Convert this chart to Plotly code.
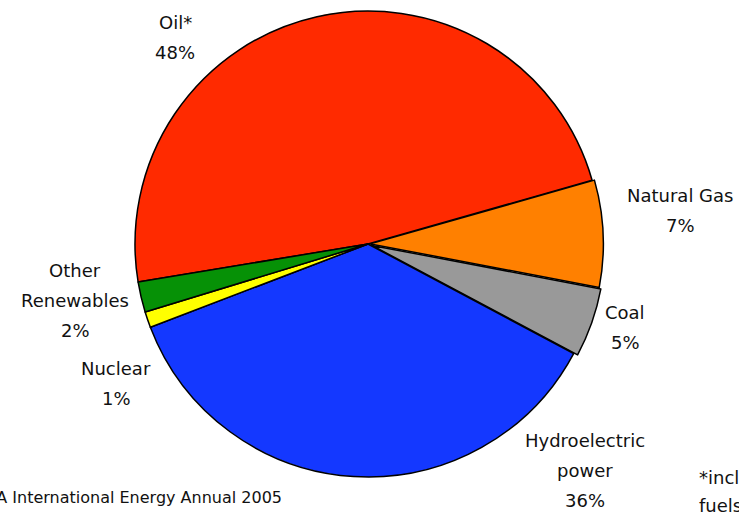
import plotly.graph_objects as go

# ---- data ----
sources = ["Oil", "Natural Gas", "Coal", "Hydroelectric power", "Nuclear", "Other Renewables"]
shares = [48.2, 7.4, 4.8, 36.4, 1.1, 2.1]
label_lines = [["Oil*"], ["Natural Gas"], ["Coal"], ["Hydroelectric", "power"], ["Nuclear"], ["Other", "Renewables"]]
colors = ["#FF2A00", "#FF8000", "#999999", "#1438FF", "#FFFF00", "#069106"]
pulls = [0, 0.01, 0.018, 0, 0, 0]

W, H = 739, 515
FONT = "DejaVu Sans, Liberation Sans, Arial, sans-serif"
MAXPULL = max(pulls)
R = 233
CX, CY = 368, 244
HALF = R * (1 + MAXPULL)

fig = go.Figure(go.Pie(
    labels=sources,
    values=shares,
    sort=False,
    direction="clockwise",
    rotation=260.6,
    pull=pulls,
    marker=dict(colors=colors, line=dict(color="black", width=1.5)),
    textinfo="none",
    hoverinfo="label+percent",
    showlegend=False,
    domain=dict(x=[(CX - HALF) / W, (CX + HALF) / W],
                y=[max(0, 1 - (CY + HALF) / H), min(1, 1 - (CY - HALF) / H)]),
))

# label anchor positions (pixel centre x, first-line centre y)
label_pos = [(175, 22), (680, 195), (625, 312), (585, 440), (116, 368), (75, 270)]
LINE = 30
total = sum(shares)
annotations = []
for lines, v, (px, py) in zip(label_lines, shares, label_pos):
    all_lines = lines + [f"{round(v / total * 100)}%"]
    for i, t in enumerate(all_lines):
        yy = py + i * LINE
        annotations.append(dict(
            text=t, x=px / W, y=1 - yy / H, xref="paper", yref="paper",
            xanchor="center", yanchor="middle", showarrow=False,
            font=dict(family=FONT, size=18, color="#111111"),
        ))

# source note and footnote (cut off at the edges as in the original)
annotations.append(dict(
    text="Source: EIA International Energy Annual 2005", x=284 / W, y=1 - 497 / H,
    xref="paper", yref="paper", xanchor="right", yanchor="middle", showarrow=False,
    font=dict(family=FONT, size=16, color="#111111"),
))
annotations.append(dict(
    text="*includes", x=697 / W, y=1 - 477 / H,
    xref="paper", yref="paper", xanchor="left", yanchor="middle", showarrow=False,
    font=dict(family=FONT, size=18, color="#111111"),
))
annotations.append(dict(
    text="fuels", x=697 / W, y=1 - 505 / H,
    xref="paper", yref="paper", xanchor="left", yanchor="middle", showarrow=False,
    font=dict(family=FONT, size=18, color="#111111"),
))

fig.update_layout(
    width=W, height=H,
    margin=dict(l=0, r=0, t=0, b=0),
    paper_bgcolor="white", plot_bgcolor="white",
    annotations=annotations,
)

fig.write_html("out.html", config={"displayModeBar": False},
               post_script="document.body.style.margin='0';")
